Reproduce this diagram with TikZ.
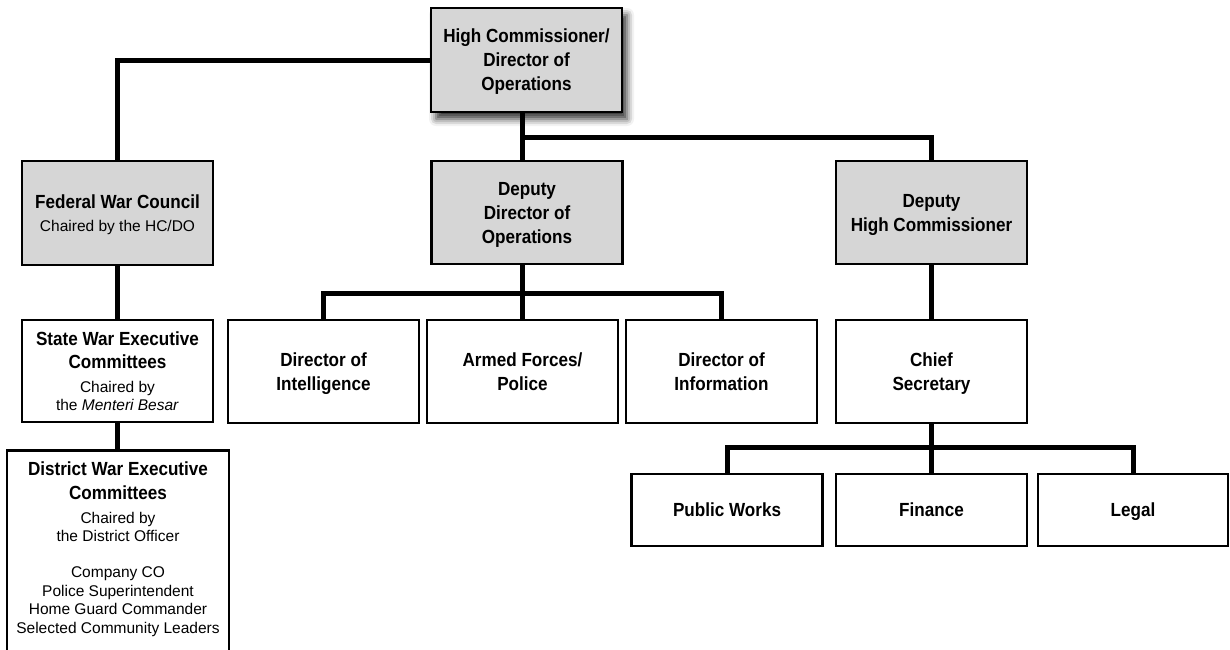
\documentclass[tikz,border=0pt]{standalone}
\usepackage{fontspec}
\setmainfont{Liberation Sans}
\newfontfamily\titlefam[FakeStretch=0.9]{Liberation Sans}
\usetikzlibrary{shadows.blur}
\newcommand\ttl{\fontsize{19}{24}\selectfont\titlefam\bfseries}
\newcommand\subtxt{\fontsize{15.5}{18.5}\selectfont\rmfamily\mdseries}
\definecolor{boxgray}{RGB}{214,214,214}
\pgfdeclarelayer{bg}
\pgfsetlayers{bg,main}
\tikzset{
  box/.style={draw=black, line width=2.6pt, align=center, inner sep=0pt,
    minimum width=191pt, minimum height=103pt, fill=white, text=black,
    text depth=0pt},
  graybox/.style={box, fill=boxgray},
  smallbox/.style={box, minimum height=72pt},
  wire/.style={line width=5pt, line join=miter, draw=black},
  hcshadow/.style={blur shadow={shadow xshift=5pt, shadow yshift=-7pt,
    shadow blur radius=7pt, shadow opacity=80}}
}
\begin{document}
\begin{tikzpicture}[x=1pt, y=-1pt]
\useasboundingbox (0,0) rectangle (1230,649);
% top
\node[graybox, hcshadow, minimum height=104pt, font=\ttl] (hc) at (526.5,60)
  {High Commissioner/\\Director of\\Operations};
% gray row
\node[graybox, minimum height=104pt, font=\subtxt] (fwc) at (117.5,213)
  {{\ttl Federal War Council}\\[4.5pt]Chaired by the HC/DO};
\node[graybox, font=\ttl] (ddo) at (527,212.5) {Deputy\\Director of\\Operations};
\node[graybox, font=\ttl] (dhc) at (931.5,212.5) {Deputy\\High Commissioner};
% second row
\node[box, minimum height=102pt, font=\subtxt] (swec) at (117.5,371)
  {{\ttl State War Executive}\\[5pt]{\ttl Committees}\\[5pt]Chaired by\\the \textit{Menteri Besar}};
\node[box, font=\ttl] (intel) at (323.5,371.5) {Director of\\Intelligence};
\node[box, font=\ttl] (armed) at (522.5,371.5) {Armed Forces/\\Police};
\node[box, font=\ttl] (info) at (721.5,371.5) {Director of\\Information};
\node[box, font=\ttl] (chief) at (931.5,371.5) {Chief\\Secretary};
% district
\node[box, anchor=north, minimum width=222pt, minimum height=230pt] (dwec) at (118,449) {};
\node[anchor=north, align=center, inner sep=0pt, font=\subtxt] (dwectext) at (118,461.3)
  {{\ttl District War Executive}\\[5.5pt]{\ttl Committees}\\[5.5pt]Chaired by\\the District Officer\\[17.5pt]
   Company CO\\Police Superintendent\\Home Guard Commander\\Selected Community Leaders};
% bottom row
\node[smallbox, font=\ttl] (pw) at (727,510) {Public Works};
\node[smallbox, font=\ttl] (fin) at (931.5,510) {Finance};
\node[smallbox, minimum width=190pt, font=\ttl] (legal) at (1133,510) {Legal};
% connectors
\coordinate (bus1) at (522.5,137);
\begin{pgfonlayer}{bg}
\draw[wire] (hc.west) -| (fwc.north);
\draw[wire] (hc.south -| bus1) -- (armed.north);
\draw[wire] (bus1) -| (dhc.north);
\draw[wire] (intel.north) -- ++(0,-25) -| (info.north);
\draw[wire] (fwc.south) -- (swec.north);
\draw[wire] (swec.south) -- (swec.south |- dwec.north);
\draw[wire] (dhc.south) -- (chief.north);
\draw[wire] (chief.south) -- (fin.north);
\draw[wire] (pw.north) -- ++(0,-25) -| (legal.north);
\end{pgfonlayer}
\end{tikzpicture}
\end{document}
